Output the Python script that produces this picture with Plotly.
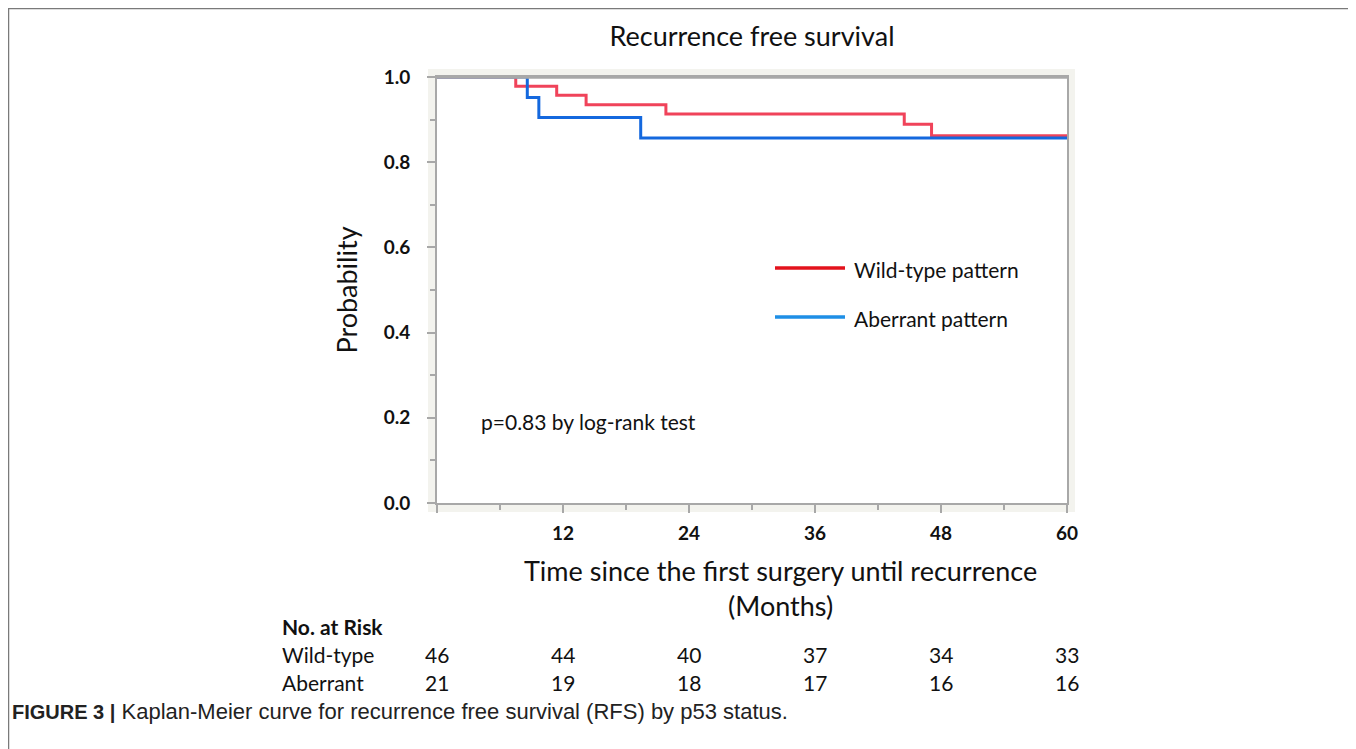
import plotly.graph_objects as go

# ---- data ----
wt_time = [0, 7.5, 11.4, 14.2, 21.8, 44.5, 47.1, 60]
wt_surv = [1.0, 0.978, 0.957, 0.935, 0.913, 0.889, 0.862, 0.862]
ab_time = [0, 8.6, 9.7, 19.4, 60]
ab_surv = [1.0, 0.952, 0.905, 0.857, 0.857]

risk_months = [0, 12, 24, 36, 48, 60]
risk_wild = [46, 44, 40, 37, 34, 33]
risk_aberrant = [21, 19, 18, 17, 16, 16]

x_tickvals = [0, 12, 24, 36, 48, 60]
x_ticktext = ["", "12", "24", "36", "48", "60"]
y_tickvals = [0.0, 0.2, 0.4, 0.6, 0.8, 1.0]

RED_CURVE = "#F0435A"
BLUE_CURVE = "#1468DE"
RED_LEG = "#E3121C"
BLUE_LEG = "#1E8FE6"
FONT = "Lato"
AX = "#A8A8A8"
TXT = "#111111"

OFF = 8  # page body margin
W, H = 1356 - OFF, 749 - OFF
# plot area in screen pixels
L, R, T, B = 437, 1067, 77, 503


def px(xs):
    return (xs - L) / (R - L)


def py(ys):
    return (B - ys) / (B - T)


fig = go.Figure()
fig.add_trace(go.Scatter(x=wt_time, y=wt_surv, mode="lines", line_shape="hv",
                         line=dict(color=RED_CURVE, width=3), name="Wild-type pattern",
                         showlegend=False))
fig.add_trace(go.Scatter(x=ab_time, y=ab_surv, mode="lines", line_shape="hv",
                         line=dict(color=BLUE_CURVE, width=3), name="Aberrant pattern",
                         showlegend=False))

shapes = [
    # outer figure frame
    dict(type="rect", xref="paper", yref="paper", x0=px(8.5), x1=px(1353), y0=py(770), y1=py(8.5),
         line=dict(color="#7A7A7A", width=1.5), fillcolor="rgba(0,0,0,0)", layer="below"),
    # beige plot frame
    dict(type="rect", xref="paper", yref="paper", x0=px(428), x1=px(1075), y0=py(512), y1=py(69),
         line=dict(width=0), fillcolor="#F3F3EE", layer="below"),
    dict(type="rect", xref="paper", yref="paper", x0=0, x1=1, y0=0, y1=1,
         line=dict(width=0), fillcolor="white", layer="below"),
    # top border drawn over the curves
    dict(type="line", xref="paper", yref="paper", x0=0, x1=1, y0=1, y1=1,
         line=dict(color=AX, width=3.4), layer="above"),
    # legend samples
    dict(type="line", xref="paper", yref="paper", x0=px(775), x1=px(845), y0=py(268), y1=py(268),
         line=dict(color=RED_LEG, width=3.5)),
    dict(type="line", xref="paper", yref="paper", x0=px(775), x1=px(845), y0=py(317), y1=py(317),
         line=dict(color=BLUE_LEG, width=3.5)),
]


def txt(text, x, y, size, xanchor="left", family=FONT, color=TXT, xref="paper"):
    return dict(text=text, xref=xref, yref="paper", x=x, y=y, xanchor=xanchor, yanchor="middle",
                showarrow=False, font=dict(size=size, family=family, color=color))


ann = [
    txt("Wild-type pattern", px(852), py(269), 21),
    txt("Aberrant pattern", px(852), py(318), 21),
    txt("p=0.83 by log-rank test", px(479), py(421), 21),
    txt("Time since the first surgery until recurrence<br>(Months)", px(780), py(588), 27, xanchor="center"),
    txt("<b>No. at Risk</b>", px(280), py(626), 21),
    txt("Wild-type", px(280), py(654), 21),
    txt("Aberrant", px(280), py(682), 21),
]
for m, w, a in zip(risk_months, risk_wild, risk_aberrant):
    ann.append(txt(str(w), m, py(654), 21, xanchor="center", xref="x"))
    ann.append(txt(str(a), m, py(682), 21, xanchor="center", xref="x"))
ann.append(txt('<span style="font-size:20px"><b>FIGURE 3 |</b></span> '
               'Kaplan-Meier curve for recurrence free survival (RFS) by p53 status.',
               px(10), py(712), 22, family="Liberation Sans", color="#222222"))

fig.update_layout(
    width=W, height=H,
    margin=dict(l=L - OFF, r=W - (R - OFF), t=T - OFF, b=H - (B - OFF)),
    paper_bgcolor="white", plot_bgcolor="white",
    title=dict(text="Recurrence free survival", x=0.5, xref="paper", xanchor="center",
               y=1 - (37 - OFF) / H, yref="container", yanchor="middle",
               font=dict(size=27, family=FONT, color=TXT)),
    shapes=shapes, annotations=ann, showlegend=False,
    xaxis=dict(range=[0, 60], tickvals=x_tickvals, ticktext=x_ticktext, ticks="outside", ticklen=8,
               tickwidth=1.5, tickcolor=AX, showline=True, linecolor=AX, linewidth=2, mirror=True,
               showgrid=False, zeroline=False, ticklabelstandoff=4,
               tickfont=dict(size=19, family=FONT, color=TXT, weight="bold"),
               minor=dict(dtick=6, ticks="outside", ticklen=5, tickcolor=AX, tickwidth=1.5, showgrid=False)),
    yaxis=dict(range=[0, 1], tickvals=y_tickvals, tickformat=".1f", ticks="outside", ticklen=8,
               tickwidth=1.5, tickcolor=AX, showline=True, linecolor=AX, linewidth=2, mirror=True,
               showgrid=False, zeroline=False, ticklabelstandoff=13,
               tickfont=dict(size=19, family=FONT, color=TXT, weight="bold"),
               title=dict(text="Probability", standoff=18, font=dict(size=27, family=FONT, color=TXT)),
               minor=dict(dtick=0.1, ticks="outside", ticklen=5, tickcolor=AX, tickwidth=1.5, showgrid=False)),
)

fig.write_html("out.html")
